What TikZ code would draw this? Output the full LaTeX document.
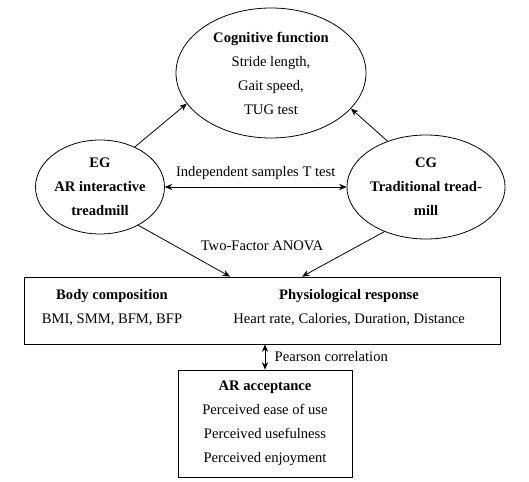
\documentclass[tikz,border=0pt]{standalone}
\usepackage{fontspec}
\setmainfont{Liberation Serif}
\usepackage{tikz}
\usetikzlibrary{positioning, arrows.meta, calc, shapes.geometric}

\begin{document}
\begin{tikzpicture}[
      x=1pt, y=-1pt, % pixel grid, y running down
      >={Stealth[length=2.6mm,width=2.2mm]},
      font=\fontsize{14.6}{24}\selectfont,
      oval/.style={ellipse, draw, thick, align=center, inner sep=0pt},
      panel/.style={rectangle, draw, thick, align=center, inner sep=0pt},
      link/.style={->, thick, black},
      twoway/.style={<->, thick, black},
    ]
    \useasboundingbox (0,0) rectangle (529,481);

    % ---- groups and outcome --------------------------------------------
    \node[oval, minimum width=190pt, minimum height=130pt] (cog) at (271,73)
      {\textbf{Cognitive function}\\Stride length,\\Gait speed,\\TUG test};
    \node[oval, minimum width=127pt, minimum height=94pt] (eg) at (100,187)
      {\textbf{EG}\\\textbf{AR interactive}\\\textbf{treadmill}};
    \node[oval, minimum width=127pt, minimum height=104pt] (cg) at (426,187)
      {\textbf{CG}\\\textbf{Traditional tread-}\\\textbf{mill}};

    % ---- measures box ---------------------------------------------------
    \node[panel, minimum width=476pt, minimum height=67pt] (resp) at (262,310.5) {};
    \node[align=center] (body) at (112,308) {\textbf{Body composition}\\BMI, SMM, BFM, BFP};
    \node[align=center] (phys) at (349,308) {\textbf{Physiological response}\\Heart rate, Calories, Duration, Distance};

    \node[panel, minimum width=174pt, minimum height=107pt] (accept) at (265,423.5)
      {\textbf{AR acceptance}\\Perceived ease of use\\Perceived usefulness\\Perceived enjoyment};

    % ---- connectors -----------------------------------------------------
    \draw[link] (eg.49) -- (cog.200);
    \draw[link] (cg.130) -- (cog.336);
    \draw[twoway] (eg.east) -- (cg.west)
      node[midway, above=4pt] (ttest) {Independent samples T test};
    \draw[link] (eg.315) -- ([xshift=-32pt]resp.north);
    \draw[link] (cg.227) -- ([xshift=40pt]resp.north);
    \node (anova) at (262,246) {Two-Factor ANOVA};
    \draw[twoway] (accept.north |- resp.south) -- (accept.north)
      node[midway, right=6pt] (pearson) {Pearson correlation};
  \end{tikzpicture}
\end{document}
